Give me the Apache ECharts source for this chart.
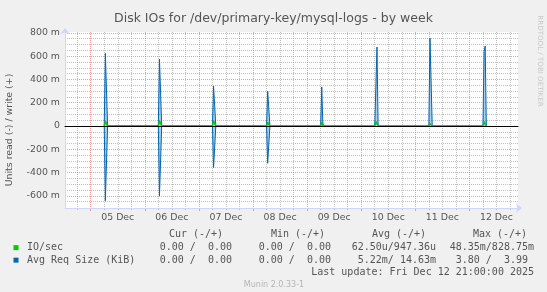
<!DOCTYPE html>
<html><head><meta charset="utf-8">
<script src="https://cdn.jsdelivr.net/npm/echarts@6/dist/echarts.min.js"></script>
<style>html,body{margin:0;padding:0;background:#f0f0f0}#c{width:547px;height:292px}</style>
</head><body><div id="c"></div>
<script>
// ---- text ----
const chartTitle = 'Disk IOs for /dev/primary-key/mysql-logs - by week';
const yAxisTitle = 'Units read (-) / write (+)';
const dayLabels = ['05 Dec','06 Dec','07 Dec','08 Dec','09 Dec','10 Dec','11 Dec','12 Dec'];
const legendNames = ['IO/sec', 'Avg Req Size (KiB)'];
const statHeaders = ['Cur (-/+)', 'Min (-/+)', 'Avg (-/+)', 'Max (-/+)'];
const statsIO = ['  0.00 /  0.00 ', '  0.00 /  0.00 ', ' 62.50u/947.36u', ' 48.35m/828.75m'];
const statsReq = ['  0.00 /  0.00 ', '  0.00 /  0.00 ', '  5.22m/ 14.63m', '  3.80 /  3.99 '];
const lastUpdate = 'Last update: Fri Dec 12 21:00:00 2025';
const footer = 'Munin 2.0.33-1';
const watermark = 'RRDTOOL / TOBI OETIKER';

// ---- time range ----
const firstMidnight = '2025-12-04T00:00:00Z';
const rangeStart = '2025-12-04T12:36:00Z';
const rangeEnd = '2025-12-12T21:33:00Z';
// vertical grid lines inside the range: [first, last] for each time of day
const midnightLines = ['2025-12-05T00:00:00Z', '2025-12-12T00:00:00Z'];
const sixLines = ['2025-12-05T06:00:00Z', '2025-12-12T06:00:00Z'];
const noonLines = ['2025-12-05T12:00:00Z', '2025-12-12T12:00:00Z'];   // day labels sit here
const eighteenLines = ['2025-12-04T18:00:00Z', '2025-12-12T18:00:00Z'];
const dayStepHours = 24;

// ---- y range (units) and y grid lines (milli-units) ----
const yMin = -0.704, yMax = 0.807;
const yMajor = [-600, 800];                    // labelled, every 200 m
const yMinorSets = [[-650, 750], [-550, 650], [-500, 700]]; // 50 m lines between majors
const yStep = 200;

// ---- series: Avg Req Size (KiB), write (+) ----
const reqWriteTimes = [
 '2025-12-05T06:00Z','2025-12-05T06:30Z','2025-12-05T07:30Z',
 '2025-12-06T06:00Z','2025-12-06T06:30Z','2025-12-06T07:30Z',
 '2025-12-07T06:00Z','2025-12-07T06:30Z','2025-12-07T07:30Z',
 '2025-12-08T06:00Z','2025-12-08T06:30Z','2025-12-08T07:30Z',
 '2025-12-09T06:00Z','2025-12-09T06:30Z','2025-12-09T07:00Z',
 '2025-12-10T06:00Z','2025-12-10T07:00Z','2025-12-10T07:30Z',
 '2025-12-11T06:00Z','2025-12-11T06:30Z','2025-12-11T07:00Z','2025-12-11T07:30Z',
 '2025-12-12T06:00Z','2025-12-12T06:30Z','2025-12-12T07:00Z','2025-12-12T07:30Z'
];
const reqWriteValues = [
 0, 0.624, 0,
 0, 0.575, 0,
 0, 0.343, 0,
 0, 0.300, 0,
 0, 0.335, 0,
 0, 0.678, 0,
 0, 0.755, 0.755, 0,
 0, 0.638, 0.687, 0
];
// ---- series: Avg Req Size (KiB), read (-) ----
const reqReadTimes = [
 '2025-12-05T06:00Z','2025-12-05T06:30Z','2025-12-05T07:30Z',
 '2025-12-06T06:00Z','2025-12-06T06:30Z','2025-12-06T07:30Z',
 '2025-12-07T06:00Z','2025-12-07T06:30Z','2025-12-07T07:30Z',
 '2025-12-08T06:00Z','2025-12-08T06:30Z','2025-12-08T07:30Z'
];
const reqReadValues = [
 0, -0.641, 0,
 0, -0.601, 0,
 0, -0.358, 0,
 0, -0.320, 0
];
// ---- series: IO/sec, write (+) ----
const ioWriteTimes = [
 '2025-12-05T06:00Z','2025-12-05T06:30Z','2025-12-05T07:00Z','2025-12-05T07:30Z',
 '2025-12-06T06:00Z','2025-12-06T06:30Z','2025-12-06T07:00Z','2025-12-06T07:30Z',
 '2025-12-07T06:00Z','2025-12-07T06:30Z','2025-12-07T07:00Z','2025-12-07T07:30Z',
 '2025-12-08T06:00Z','2025-12-08T06:30Z','2025-12-08T07:00Z','2025-12-08T07:30Z',
 '2025-12-09T06:00Z','2025-12-09T06:30Z','2025-12-09T07:00Z','2025-12-09T07:30Z',
 '2025-12-10T06:00Z','2025-12-10T06:30Z','2025-12-10T07:00Z','2025-12-10T07:30Z',
 '2025-12-11T06:00Z','2025-12-11T06:30Z','2025-12-11T07:00Z','2025-12-11T07:30Z',
 '2025-12-12T06:00Z','2025-12-12T06:30Z','2025-12-12T07:00Z','2025-12-12T07:30Z'
];
const ioWriteValues = [
 0, 0.040, 0.040, 0,
 0, 0.045, 0.045, 0,
 0, 0.045, 0.045, 0,
 0, 0.032, 0.032, 0,
 0, 0.032, 0.032, 0,
 0, 0.037, 0.037, 0,
 0, 0.020, 0.020, 0,
 0, 0.037, 0.037, 0
];

// ---- layout ----
const W = 547, H = 292;
const plot = {left: 65, right: 518, top: 32, bottom: 208};

// ---- build ----
const HOUR = 3600000;
const t0 = Date.parse(firstMidnight);
const xMin = Date.parse(rangeStart), xMax = Date.parse(rangeEnd);
const hrs = s => (Date.parse(s) - t0) / HOUR;
const px = t => plot.left + (t - xMin) / (xMax - xMin) * (plot.right - plot.left);
const py = v => plot.top + (yMax - v) / (yMax - yMin) * (plot.bottom - plot.top);
const pairs = (ts, vs) => ts.map((t, i) => [Date.parse(t), vs[i]]);

const FONT = '#555';
const AXIS = '#CFD6F8';
const GRID = 'rgba(140,140,140,0.55)';
const MGRID = 'rgba(235,90,90,0.6)';
const BLUE = '#0066b3', GREEN = '#00cc00';
const SANS = 'DejaVu Sans', MONO = 'DejaVu Sans Mono';
const noShow = {show: false};
const gridLine = color => ({show: true, showMinLine: true, showMaxLine: true, lineStyle: {color, type: [1, 1], width: 1}});
const dummy = g => ({type: 'value', gridIndex: g, show: false, min: 0, max: 1});

const grids = [{left: plot.left, right: W - plot.right, top: plot.top, bottom: H - plot.bottom, show: true, backgroundColor: '#fff', borderWidth: 0}];
const xAxes = [
  { // data axis; its line is the black zero line
    type: 'value', gridIndex: 0, min: xMin, max: xMax, position: 'bottom', z: 10,
    axisLine: {show: true, onZero: true, lineStyle: {color: '#000', width: 1}},
    axisTick: noShow, axisLabel: noShow, splitLine: noShow
  },
  { // bottom axis line with arrow
    type: 'value', gridIndex: 0, min: xMin, max: xMax, position: 'bottom', z: 2,
    axisLine: {show: true, onZero: false, lineStyle: {color: AXIS, width: 1}, symbol: ['none', 'arrow'], symbolSize: [7, 6], symbolOffset: [0, 4]},
    axisTick: noShow, axisLabel: noShow, splitLine: noShow
  }
];
const yAxes = [
  { // data axis with arrow
    type: 'value', gridIndex: 0, min: yMin, max: yMax, position: 'left', z: 2,
    axisLine: {show: true, onZero: false, lineStyle: {color: AXIS, width: 1}, symbol: ['none', 'arrow'], symbolSize: [7, 6], symbolOffset: [0, 4]},
    axisTick: noShow, axisLabel: noShow, splitLine: noShow
  }
];

// vertical line set: axis in "steps since first line", min 0, interval 1
function addVertical(range, color, tickLen, labels) {
  const g = grids.length;
  grids.push({left: px(Date.parse(range[0])), right: W - px(Date.parse(range[1])), top: plot.top, bottom: H - plot.bottom});
  xAxes.push({
    type: 'value', gridIndex: g, min: 0, max: (hrs(range[1]) - hrs(range[0])) / dayStepHours, interval: 1,
    position: 'bottom',
    axisLine: {show: false, onZero: false},
    axisTick: {show: true, length: tickLen, lineStyle: {color}},
    axisLabel: labels ? {show: true, margin: 5, fontFamily: SANS, fontSize: 9.4, color: FONT,
      formatter: v => labels[Math.round(v)] || ''} : noShow,
    splitLine: gridLine(color)
  });
  yAxes.push(dummy(g));
}
// horizontal line set (milli-units): axis in "steps since first line"
function addHorizontal(range, color, withLabels) {
  const g = grids.length;
  grids.push({left: plot.left, right: W - plot.right, top: py(range[1] / 1000), bottom: H - py(range[0] / 1000)});
  yAxes.push({
    type: 'value', gridIndex: g, min: 0, max: (range[1] - range[0]) / yStep, interval: 1, position: 'left',
    axisLine: {show: false, onZero: false}, axisTick: noShow,
    axisLabel: withLabels ? {show: true, margin: 5, fontFamily: SANS, fontSize: 9.4, color: FONT,
      formatter: v => { const m = Math.round(range[0] + v * yStep); return m === 0 ? '0' : m + ' m'; }} : noShow,
    splitLine: gridLine(color)
  });
  xAxes.push(dummy(g));
}
addVertical(sixLines, GRID, 2);
addVertical(noonLines, GRID, 2, dayLabels);
addVertical(eighteenLines, GRID, 2);
addVertical(midnightLines, MGRID, 3);
yMinorSets.forEach(r => addHorizontal(r, GRID, false));
addHorizontal(yMajor, MGRID, true);

const chart = echarts.init(document.getElementById('c'), null, {renderer: 'canvas'});

const txt = (text, x, y, align, opts) => ({
  type: 'text', x, y, silent: true,
  style: Object.assign({text, fill: FONT, font: '10px "' + MONO + '"', textAlign: align, textVerticalAlign: 'middle'}, opts || {})
});
const statCols = [238, 337, 436, 534];
const headCenters = [196, 298, 399, 500];
const graphics = [];
statHeaders.forEach((h, i) => graphics.push(txt(h, headCenters[i], 234.7, 'center')));
statsIO.forEach((s, i) => graphics.push(txt(s, statCols[i], 247.6, 'right')));
statsReq.forEach((s, i) => graphics.push(txt(s, statCols[i], 260.1, 'right')));
graphics.push(txt(lastUpdate, 534, 272.4, 'right'));
graphics.push(txt(footer, 274, 285, 'center', {font: '8px "' + SANS + '"', fill: '#b4b4b4'}));
graphics.push(Object.assign(txt(yAxisTitle, 10, 130, 'center', {font: '9.4px "' + SANS + '"'}), {rotation: Math.PI / 2}));
graphics.push(Object.assign(txt(watermark, 540, 61, 'center', {font: '7.1px "' + SANS + '"', fill: '#c8c8c8'}), {rotation: -Math.PI / 2}));

chart.setOption({
  animation: false,
  backgroundColor: '#f0f0f0',
  title: {text: chartTitle, left: 'center', top: 7,
    textStyle: {fontFamily: SANS, fontSize: 12.5, fontWeight: 'normal', color: FONT}},
  grid: grids,
  legend: {
    orient: 'vertical', left: 13.5, top: 241.4, padding: 0, itemGap: 0,
    data: legendNames, selectedMode: false,
    icon: 'rect', itemWidth: 5, itemHeight: 5, itemStyle: {borderWidth: 0},
    textStyle: {fontFamily: MONO, fontSize: 10, color: FONT, lineHeight: 12.5, padding: [0, 0, 0, 3.5]}
  },
  xAxis: xAxes,
  yAxis: yAxes,
  series: [
    {name: legendNames[1], type: 'line', xAxisIndex: 0, yAxisIndex: 0, data: pairs(reqWriteTimes, reqWriteValues),
      color: BLUE, showSymbol: false, symbol: 'none', z: 3,
      lineStyle: {color: BLUE, width: 1}, areaStyle: {color: 'rgba(0,102,179,0.45)'}},
    {name: legendNames[1], type: 'line', xAxisIndex: 0, yAxisIndex: 0, data: pairs(reqReadTimes, reqReadValues),
      color: BLUE, showSymbol: false, symbol: 'none', z: 3,
      lineStyle: {color: BLUE, width: 1}, areaStyle: {color: 'rgba(0,102,179,0.45)'}},
    {name: legendNames[0], type: 'line', xAxisIndex: 0, yAxisIndex: 0, data: pairs(ioWriteTimes, ioWriteValues),
      color: GREEN, showSymbol: false, symbol: 'none', z: 4,
      lineStyle: {color: GREEN, width: 1.5}}
  ],
  graphic: graphics
});
</script></body></html>
